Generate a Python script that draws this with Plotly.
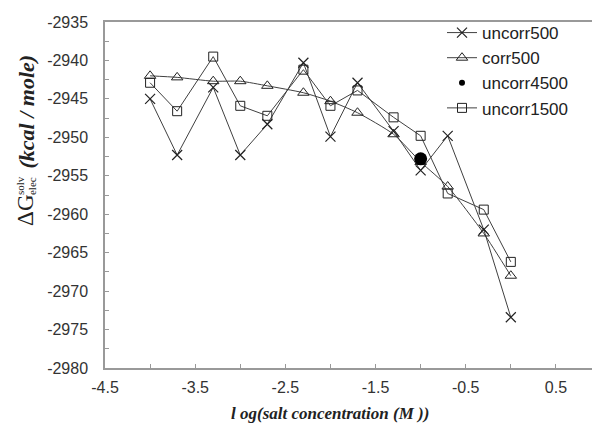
import plotly.graph_objects as go

x_log = [-4.0, -3.7, -3.3, -3.0, -2.7, -2.3, -2.0, -1.7, -1.3, -1.0, -0.7, -0.3, 0.0]
uncorr500 = [-2945.0, -2952.3, -2943.5, -2952.3, -2948.3, -2940.3, -2949.9, -2942.9, -2949.2, -2954.3, -2949.8, -2962.0, -2973.4]
corr500 = [-2942.0, -2942.2, -2942.7, -2942.7, -2943.3, -2944.2, -2945.3, -2946.8, -2949.6, -2953.2, -2956.4, -2962.5, -2968.0]
uncorr1500 = [-2942.9, -2946.6, -2939.5, -2945.9, -2947.2, -2941.2, -2945.9, -2943.9, -2947.4, -2949.8, -2957.3, -2959.4, -2966.2]
x_4500 = [-1.0]
uncorr4500 = [-2952.8]

x_ticks = [-4.5, -3.5, -2.5, -1.5, -0.5, 0.5]
x_minor = [-4.0, -3.0, -2.0, -1.0, 0.0, 1.0]
y_ticks = [-2980, -2975, -2970, -2965, -2960, -2955, -2950, -2945, -2940, -2935]
y_minor = [-2977.5, -2972.5, -2967.5, -2962.5, -2957.5, -2952.5, -2947.5, -2942.5, -2937.5]

W, H = 600, 425
ML, MR, MT, MB = 97, 7, 12, 65
PW, PH = W - ML - MR, H - MT - MB


def px(xp):
    return (xp - ML) / PW


def py(yp):
    return (H - MB - yp) / PH


LINE = "#404040"
MK = "#222"
fig = go.Figure()
fig.add_trace(go.Scatter(x=x_log, y=uncorr500, name="uncorr500", mode="lines+markers",
                         line=dict(color=LINE, width=1),
                         marker=dict(symbol="x-thin-open", size=10, color=MK,
                                     line=dict(width=1.2, color=MK))))
fig.add_trace(go.Scatter(x=x_log, y=corr500, name="corr500", mode="lines+markers",
                         line=dict(color=LINE, width=1, shape="spline", smoothing=0.6),
                         marker=dict(symbol="triangle-up-open", size=10, color=MK,
                                     line=dict(width=1, color=MK))))
fig.add_trace(go.Scatter(x=x_4500, y=uncorr4500, name="uncorr4500", mode="markers",
                         legendgroup="u4500", showlegend=False,
                         marker=dict(symbol="circle", size=13, color="#000")))
fig.add_trace(go.Scatter(x=[None], y=[None], name="uncorr4500", mode="markers",
                         legendgroup="u4500",
                         marker=dict(symbol="circle", size=6, color="#000")))
fig.add_trace(go.Scatter(x=x_log, y=uncorr1500, name="uncorr1500", mode="lines+markers",
                         line=dict(color=LINE, width=1),
                         marker=dict(symbol="square-open", size=9, color=MK,
                                     line=dict(width=1, color=MK))))

tickfont = dict(family="Arial, Liberation Sans, sans-serif", size=16, color="#333")
serif = "Liberation Serif, Times New Roman, serif"
fig.update_layout(
    width=W, height=H,
    margin=dict(l=ML, r=MR, t=MT, b=MB),
    paper_bgcolor="white", plot_bgcolor="white",
    showlegend=True,
    legend=dict(x=px(434), y=py(5), xanchor="left", yanchor="top",
                font=dict(family="Arial, Liberation Sans, sans-serif", size=17, color="#222"),
                bgcolor="rgba(0,0,0,0)", tracegroupgap=0, itemwidth=30),
    xaxis=dict(range=[-4.5, 1.0], tickmode="array", tickvals=x_ticks,
               ticktext=[f"{v:g}" for v in x_ticks], showgrid=False, zeroline=False,
               showline=True, linecolor="#999", linewidth=1.5, mirror=True, automargin=False,
               ticks="inside", ticklen=4, tickcolor="#999", tickfont=tickfont,
               ticklabelstandoff=4,
               minor=dict(tickvals=x_minor, ticks="inside", ticklen=4, tickcolor="#999")),
    yaxis=dict(range=[-2980, -2935], tickmode="array", tickvals=y_ticks,
               ticktext=[f"{v:g}" for v in y_ticks], showgrid=False, zeroline=False,
               showline=True, linecolor="#999", linewidth=1.5, mirror="ticks", automargin=False,
               ticks="inside", ticklen=4, tickcolor="#999", tickfont=tickfont,
               ticklabelstandoff=12,
               minor=dict(tickvals=y_minor, ticks="inside", ticklen=4, tickcolor="#999")),
)

ann = [
    dict(text="ΔG", x=px(18), y=py(202), size=23, angle=-90),
    dict(text="solv", x=px(12), y=py(177), size=11, angle=-90),
    dict(text="elec", x=px(24), y=py(177), size=11, angle=-90),
    dict(text="<b><i>(kcal / mole)</i></b>", x=px(18), y=py(102), size=22, angle=-90),
    dict(text="<b><i>l og(salt concentration (M ))</i></b>", x=px(322), y=py(406), size=17, angle=0),
]
for a in ann:
    fig.add_annotation(text=a["text"], x=a["x"], y=a["y"], xref="paper", yref="paper",
                       showarrow=False, textangle=a["angle"], xanchor="center", yanchor="middle",
                       font=dict(family=serif, size=a["size"], color="#222"))

fig.write_html("out.html")
